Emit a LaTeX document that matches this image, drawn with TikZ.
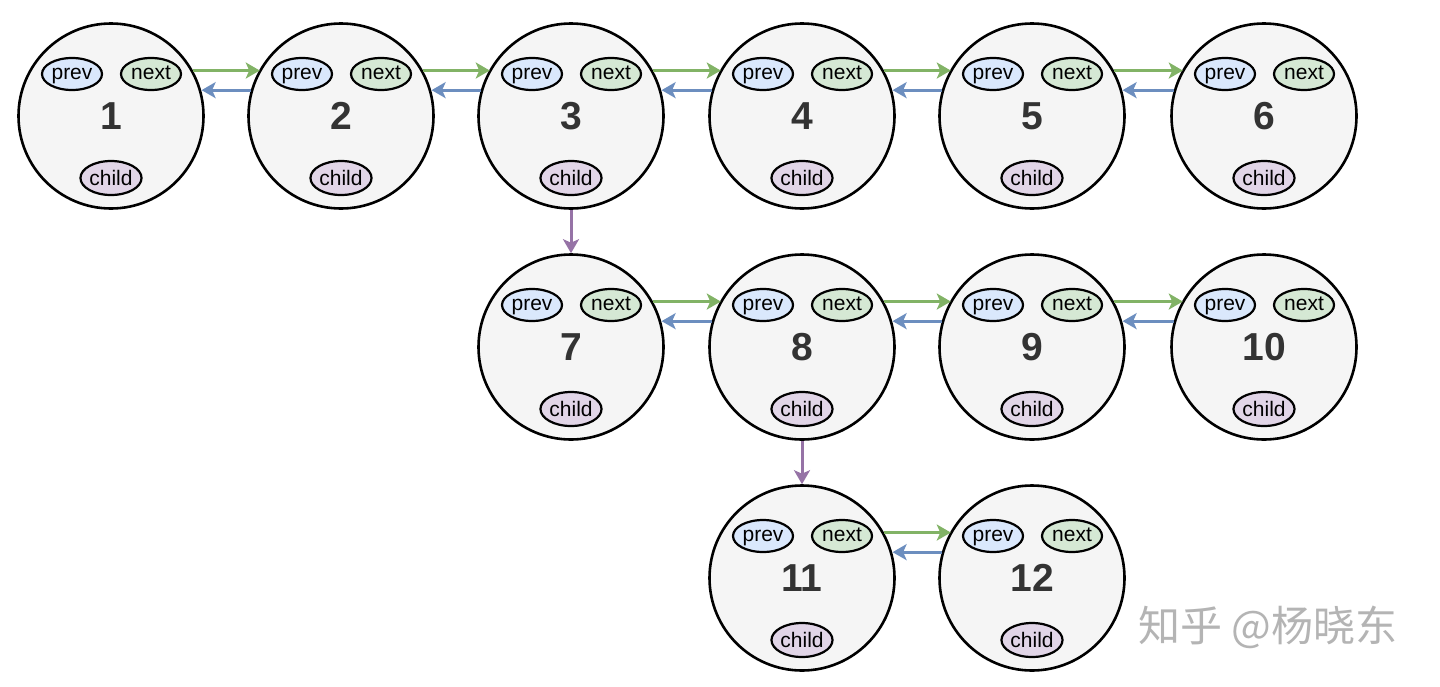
\documentclass[tikz,border=0pt]{standalone}
\usepackage{fontspec}
\setmainfont{Liberation Sans}
\newfontfamily\cjkfont{Noto Sans CJK SC}
\usetikzlibrary{arrows.meta,shapes.geometric}
\definecolor{nodefill}{HTML}{F5F5F5}
\definecolor{numcol}{HTML}{333333}
\definecolor{prevfill}{HTML}{DAE8FC}
\definecolor{nextfill}{HTML}{D5E8D4}
\definecolor{childfill}{HTML}{E1D5E7}
\definecolor{greenarr}{HTML}{82B366}
\definecolor{bluearr}{HTML}{6C8EBF}
\definecolor{purplearr}{HTML}{9673A6}
\definecolor{wmark}{HTML}{B4B4B4}
\begin{document}
\begin{tikzpicture}[x=1pt,y=-1pt,
  listnode/.style={circle,draw=black,line width=2.6pt,fill=nodefill,minimum size=185pt,inner sep=0pt,
    text=numcol,font=\fontsize{39}{39}\selectfont\bfseries},
  field/.style={ellipse,draw=black,line width=2.2pt,minimum width=60pt,minimum height=32pt,inner sep=0pt,
    text height=15pt,text depth=4pt,font=\fontsize{21}{21}\selectfont},
  prevbox/.style={field,fill=prevfill},
  nextbox/.style={field,fill=nextfill},
  childbox/.style={field,fill=childfill,minimum height=34pt,text height=15pt,text depth=1pt},
  arr/.style={line width=3pt,-{Stealth[length=14pt,width=16pt,inset=3.5pt]}},
  nextarr/.style={arr,draw=greenarr},
  prevarr/.style={arr,draw=bluearr},
  childarr/.style={arr,draw=purplearr}]
\useasboundingbox (0,0) rectangle (1440,686);
\fill[white] (0,0) rectangle (1440,686);
\foreach \n/\x/\y in {1/111/116,2/341/116,3/571/116,4/802/116,5/1032/116,6/1264/116,
                      7/571/347,8/802/347,9/1032/347,10/1264/347,
                      11/802/578,12/1032/578}{
  \node[listnode] (c\n) at (\x,\y) {\n};
  \node[prevbox] (p\n) at (\x-39,\y-42) {prev};
  \node[nextbox] (x\n) at (\x+40,\y-42) {next};
  \node[childbox] (d\n) at (\x,\y+62) {child};
}
\foreach \a/\b in {1/2,2/3,3/4,4/5,5/6,7/8,8/9,9/10,11/12}{
  \draw[nextarr] (c\a.29.6) -- (c\a.29.6 -| c\b.150.4);
  \draw[prevarr] (c\b.164.4) -- (c\b.164.4 -| c\a.15.6);
}
\draw[childarr] (c3.south) -- (c7.north);
\draw[childarr] (c8.south) -- (c11.north);
\node[text=wmark,font=\cjkfont\fontsize{42}{42}\selectfont,anchor=center] (wm) at (1268,627) {知乎 @杨晓东};
\end{tikzpicture}
\end{document}
